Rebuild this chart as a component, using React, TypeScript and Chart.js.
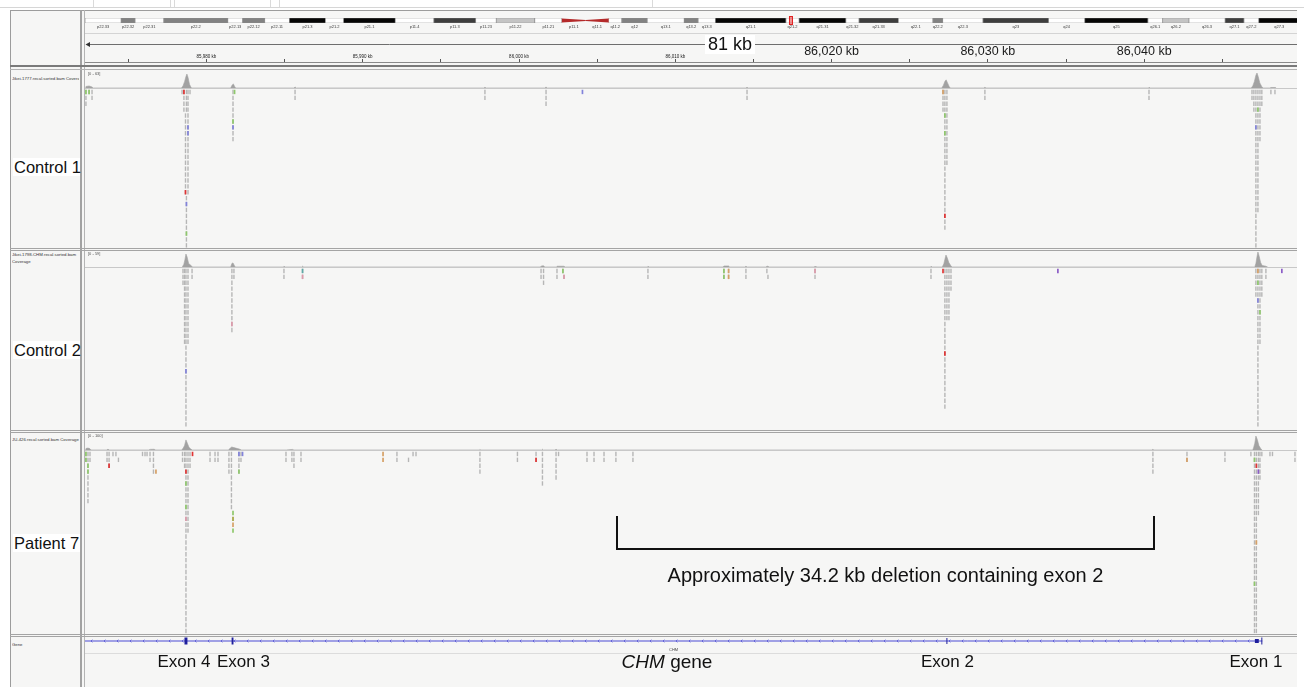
import React, { useEffect, useRef } from "react";
import { Chart, registerables } from "chart.js";

Chart.register(...registerables);

const FONT = '"Liberation Sans", Arial, Helvetica, sans-serif';

// ---------------- locus / ruler ----------------
const VIEW_START_KB = 85972.23;
const VIEW_END_KB = 86049.78;
const RULER_STEP_KB = 5;
const RULER_LABEL_STEP_KB = 10;
const RULER_BIG_FROM_KB = 86015;
const SPAN_LABEL = "81 kb";
const SPAN_LABEL_KB = 86013.5;

// ---------------- ideogram chrX (Mb) ----------------
const bandNames = ["p22.33","p22.32","p22.31","p22.2","p22.13","p22.12","p22.11","p21.3","p21.2","p21.1","p11.4","p11.3","p11.23","p11.22","p11.21","p11.1","q11.1","q11.2","q12","q13.1","q13.2","q13.3","q21.1","q21.2","q21.31","q21.32","q21.33","q22.1","q22.2","q22.3","q23","q24","q25","q26.1","q26.2","q26.3","q27.1","q27.2","q27.3","q28"];
const bandStartMb = [0,4.4,6.1,9.6,17.4,19.2,21.9,24.9,29.3,31.5,37.8,42.5,47.6,50.1,54.8,58.1,61.0,63.8,65.4,68.5,73.0,74.7,76.8,85.4,87.0,92.7,94.3,99.1,103.3,104.5,109.4,117.4,121.8,129.5,131.3,134.5,138.9,141.2,143.0,148.0];
const bandEndMb = [4.4,6.1,9.6,17.4,19.2,21.9,24.9,29.3,31.5,37.8,42.5,47.6,50.1,54.8,58.1,61.0,63.8,65.4,68.5,73.0,74.7,76.8,85.4,87.0,92.7,94.3,99.1,103.3,104.5,109.4,117.4,121.8,129.5,131.3,134.5,138.9,141.2,143.0,148.0,156.0];
const bandStain = ["gneg","gpos50","gneg","gpos50","gneg","gpos50","gneg","gpos100","gneg","gpos100","gneg","gpos75","gneg","gpos25","gneg","acen","acen","gneg","gpos50","gneg","gpos50","gneg","gpos100","gneg","gpos100","gneg","gpos75","gneg","gpos50","gneg","gpos75","gneg","gpos100","gneg","gpos25","gneg","gpos75","gneg","gpos100","gpos75"];
const CHROM_VIEW_END_MB = 147.66;
const CURRENT_LOCUS_MB = 86.01;

// ---------------- coverage tracks ----------------
const c1Range = 63;
const c1CovPos = [85972.23,85972.29,85972.49,85972.68,85972.75,85978.40,85978.50,85978.60,85978.69,85978.75,85978.82,85978.92,85979.00,85979.05,85981.55,85981.65,85981.72,85981.82,85981.88,85985.60,85985.67,85985.75,85997.75,85997.82,85997.90,86001.65,86001.73,86001.80,86014.52,86014.59,86014.66,86027.05,86027.15,86027.25,86027.33,86027.42,86027.52,86027.60,86029.75,86029.81,86029.88,86040.25,86040.31,86040.38,86046.85,86046.95,86047.05,86047.15,86047.22,86047.30,86047.40,86047.52,86047.60,86048.05,86048.11,86048.40,86048.45];
const c1CovVal = [0,6,8,4,0,0,8,25,45,55,42,14,4,0,0,12,16,4,0,0,4,0,0,3,0,0,4,0,0,3,0,0,10,26,32,20,6,0,0,3,0,0,3,0,0,8,25,50,59,44,20,6,0,0,2,2,0];

const c2Range = 59;
const c2CovPos = [85978.45,85978.55,85978.62,85978.69,85978.76,85978.86,85979.05,85979.10,85981.55,85981.63,85981.70,85981.80,85981.85,85984.90,85984.96,85985.03,85986.10,85986.15,85986.22,86001.35,86001.45,86001.57,86001.65,86002.38,86002.43,86002.88,86002.95,86008.20,86008.25,86008.32,86013.05,86013.11,86013.41,86013.48,86014.45,86014.52,86014.60,86015.80,86015.86,86015.93,86016.00,86018.88,86018.94,86019.00,86026.30,86026.36,86026.43,86027.08,86027.18,86027.25,86027.32,86027.40,86027.50,86027.62,86027.70,86047.08,86047.15,86047.22,86047.28,86047.36,86047.45,86047.55,86047.80,86047.85];
const c2CovVal = [0,10,28,51,40,14,4,0,0,14,16,4,0,0,3,0,0,3,0,0,4,5,0,0,3,3,0,0,3,0,0,4,4,0,0,3,0,0,3,3,0,0,3,0,0,3,0,0,12,30,47,36,18,6,0,0,14,40,59,42,18,6,3,0];

const p7Range = 100;
const p7CovPos = [85972.23,85972.29,85972.42,85972.55,85972.62,85973.60,85973.70,85973.80,85976.30,85976.40,85976.65,85976.75,85978.40,85978.50,85978.60,85978.69,85978.78,85978.88,85979.00,85979.10,85981.40,85981.50,85981.62,85981.75,85982.10,85982.25,85985.10,85985.50,85985.60,85997.45,85997.50,85997.55,86001.45,86001.50,86001.55,86002.30,86002.37,86002.45,86040.50,86040.56,86040.62,86046.95,86047.00,86047.08,86047.15,86047.24,86047.34,86047.45,86047.55];
const p7CovVal = [0,10,13,8,0,0,5,0,0,4,5,0,0,10,30,67,45,18,6,0,0,10,20,16,6,0,0,4,0,0,4,0,0,5,0,0,5,0,0,5,0,0,15,45,93,70,30,10,0];

// ---------------- read pileups (column position kb, first row, last row) ----------------
const c1ReadPos = [85972.29,85972.49,85972.68,85978.44,85978.56,85978.66,85978.72,85978.72,85978.82,85978.95,85981.70,85985.67,85997.82,86001.73,86014.59,86027.13,86027.25,86027.38,86029.81,86040.31,86046.90,86047.02,86047.15,86047.28,86047.41,86047.53,86048.11,86048.37];
const c1ReadFrom = [0,0,0,0,0,4,0,18,0,0,0,0,0,0,0,0,0,0,0,0,0,0,0,0,0,0,0,0];
const c1ReadTo = [2,0,1,0,3,17,3,26,17,0,8,1,1,2,1,3,23,12,1,1,1,3,26,20,8,2,0,0];
const c1TintPos = [85972.29,85972.49,85978.56,85978.82,85978.82,85978.66,85978.72,85978.72,85981.70,85981.70,85981.80,86004.06,86027.13,86027.25,86027.25,86027.25,86047.15,86047.28];
const c1TintRow = [0,0,0,6,7,17,19,24,5,6,0,0,0,4,7,21,6,3];
const c1TintCol = ["g","g","r","b","b","r","b","g","g","b","g","b","o","g","g","r","b","g"];

const c2ReadPos = [85978.50,85978.60,85978.69,85978.82,85979.08,85981.63,85981.76,85984.96,85986.15,86001.41,86001.57,86002.43,86002.81,86002.88,86008.25,86013.11,86013.41,86014.52,86015.86,86015.93,86018.94,86026.36,86027.25,86027.38,86027.51,86027.64,86047.15,86047.28,86047.41,86047.53,86047.79];
const c2ReadFrom = [0,0,0,0,0,0,0,0,0,0,0,0,0,1,0,0,0,0,0,1,0,0,0,0,0,0,0,0,0,0,0];
const c2ReadTo = [2,12,26,12,1,10,1,1,1,1,2,1,0,1,1,1,1,1,0,1,1,1,23,8,8,3,4,26,12,4,1];
const c2TintPos = [85978.69,85981.63,85986.15,85986.15,86002.81,86002.88,86013.11,86013.11,86013.41,86013.41,86018.94,86027.13,86027.25,86034.48,86047.28,86047.28,86047.28,86047.41,86048.81];
const c2TintRow = [17,9,0,1,0,1,0,1,0,1,0,0,14,0,0,2,5,7,0];
const c2TintCol = ["b","k","t","k","g","k","g","g","o","o","k","r","r","p","o","g","b","g","p"];

const p7ReadPos = [85972.29,85972.42,85972.55,85973.64,85973.77,85974.02,85974.21,85974.37,85975.91,85976.07,85976.20,85976.39,85976.61,85978.47,85978.60,85978.69,85978.82,85978.95,85980.23,85980.55,85980.74,85981.44,85981.60,85982.08,85982.21,85985.09,85985.47,85985.60,85986.05,85992.19,85992.93,85993.22,85993.41,85997.50,85999.90,86001.09,86001.50,86002.37,86002.53,86004.35,86004.80,86005.44,86006.20,86007.29,86040.56,86042.74,86045.17,86046.83,86047.06,86047.18,86047.31,86047.41,86047.53,86048.05,86048.21,86049.65];
const p7ReadFrom = [0,0,0,0,0,0,0,1,0,0,0,0,0,0,0,0,0,0,0,0,0,0,0,0,0,0,0,0,0,0,1,0,0,0,0,0,0,0,0,0,0,0,0,0,0,0,0,0,0,0,0,0,0,0,0,0];
const p7ReadTo = [1,8,1,1,2,0,0,1,0,0,0,1,3,1,2,30,13,2,1,1,1,3,9,3,1,1,1,2,1,1,1,0,0,3,1,1,5,4,0,1,1,1,1,1,3,1,1,0,30,30,10,4,0,0,0,1];
const p7TintPos = [85972.29,85972.29,85972.42,85972.42,85973.77,85976.77,85979.11,85978.69,85978.69,85978.69,85978.69,85981.70,85981.70,85981.70,85981.70,85982.08,85982.08,85982.31,85991.30,85991.30,86001.09,86042.74,86047.06,86047.18,86047.31,86047.18,86047.06];
const p7TintRow = [0,1,2,3,2,3,0,3,5,9,11,10,11,12,13,0,3,0,0,1,1,1,1,2,3,15,22];
const p7TintCol = ["g","g","g","g","r","o","r","r","g","g","k","g","v","o","g","b","g","b","o","o","r","o","g","r","p","o","g"];

// ---------------- gene track ----------------
const GENE_NAME = "CHM";
const GENE_START_KB = 85861.18;
const GENE_END_KB = 86047.56;
const exonMarkKb = [85978.69, 85981.67, 86027.38, 86047.21, 86047.53];
const exonMarkWidthKb = [0.19, 0.12, 0.06, 0.25, 0.06];
const exonMarkHalfHeight = [3.5, 3.5, 3, 2, 3.5];
const exonLabelText = ["Exon 4", "Exon 3", "Exon 2", "Exon 1"];
const exonLabelKb = [85978.56, 85982.37, 86027.41, 86047.15];
const GENE_TITLE_KB = 86009.47;

// ---------------- deletion annotation ----------------
const DEL_START_KB = 86006.27;
const DEL_END_KB = 86040.63;
const DEL_TEXT = "Approximately 34.2 kb deletion containing exon 2";

// ---------------- styling ----------------
const stainColor: Record<string, string> = {
  gneg: "#ffffff", gpos25: "#c4c4c4", gpos50: "#828282", gpos75: "#3e3e3e", gpos100: "#050505", acen: "rgba(0,0,0,0)",
};
const tintColor: Record<string, string> = {
  g: "#8fc86c", r: "#e03434", b: "#8283da", o: "#d6a066", p: "#8b5cc6", t: "#5ea8a6", k: "#dc9aaa", v: "#a3a33e",
};
const READ_GRAY = "#b6b6b6";
const COV_GRAY = "#a2a2a2";
const GENE_BLUE = "#4a4ad4";
const EXON_BLUE = "#1e1e9c";
const ROW_PX = 5.9;
const BG = "#f6f6f5";
const LINE = "#9c9c9c";
const DATA_X = 85;
const DATA_W = 1212;

function baseOptions(extra: any) {
  return {
    animation: false,
    responsive: false,
    maintainAspectRatio: false,
    devicePixelRatio: 1,
    events: [],
    layout: { padding: 0, autoPadding: false },
    plugins: { legend: { display: false }, tooltip: { enabled: false }, title: { display: false } },
    ...extra,
  };
}

const genomeX = { type: "linear", min: VIEW_START_KB, max: VIEW_END_KB, display: false };

function ChartBox({ left, top, width, height, build }: any) {
  const ref = useRef<HTMLCanvasElement>(null);
  useEffect(() => {
    const chart = new Chart(ref.current as HTMLCanvasElement, build());
    return () => chart.destroy();
  }, []);
  return (
    <canvas ref={ref} width={width} height={height}
      style={{ position: "absolute", left, top, width, height }} />
  );
}

// ---------- ideogram ----------
const ideogramDecor = {
  id: "ideogramDecor",
  afterDatasetsDraw(chart: any) {
    const { ctx, chartArea, scales } = chart;
    const { top, bottom, right } = chartArea;
    const x = scales.x;
    const mid = (top + bottom) / 2;
    ctx.save();
    bandNames.forEach((n, i) => {
      if (bandStain[i] !== "acen") return;
      const x0 = x.getPixelForValue(bandStartMb[i]);
      const x1 = x.getPixelForValue(bandEndMb[i]);
      ctx.fillStyle = "#b42a2a";
      ctx.beginPath();
      if (n.startsWith("p")) {
        ctx.moveTo(x0, top + 0.5); ctx.lineTo(x1, mid - 0.4); ctx.lineTo(x1, mid + 0.4); ctx.lineTo(x0, bottom - 0.5);
      } else {
        ctx.moveTo(x0, mid - 0.4); ctx.lineTo(x1, top + 0.5); ctx.lineTo(x1, bottom - 0.5); ctx.lineTo(x0, mid + 0.4);
      }
      ctx.closePath();
      ctx.fill();
    });
    ctx.font = `4px ${FONT}`;
    ctx.fillStyle = "#3a3a3a";
    ctx.textAlign = "center";
    ctx.textBaseline = "middle";
    bandNames.forEach((n, i) => {
      const c = x.getPixelForValue((bandStartMb[i] + bandEndMb[i]) / 2);
      if (c < right - 4) ctx.fillText(n, c, bottom + 3.5);
    });
    const lx = x.getPixelForValue(CURRENT_LOCUS_MB);
    ctx.fillStyle = "rgba(230,60,60,0.55)";
    ctx.fillRect(lx - 1.5, top - 1.5, 3, bottom - top + 3);
    ctx.strokeStyle = "#e02020";
    ctx.lineWidth = 1;
    ctx.strokeRect(lx - 1.5, top - 1.5, 3, bottom - top + 3);
    ctx.restore();
  },
};

function ideogramConfig() {
  return {
    type: "bar",
    data: {
      labels: ["chrX"],
      datasets: [{
        data: bandNames.map((_, i) => ({ x: [bandStartMb[i], bandEndMb[i]], y: "chrX" })),
        backgroundColor: bandStain.map((s) => stainColor[s]),
        borderColor: bandStain.map((s) => (s === "acen" ? "rgba(0,0,0,0)" : "#8e8e8e")),
        borderWidth: 0.7,
        borderSkipped: false,
        barPercentage: 1,
        categoryPercentage: 1,
      }],
    },
    options: baseOptions({
      indexAxis: "y",
      layout: { padding: { top: 3, bottom: 8, left: 0, right: 0 }, autoPadding: false },
      scales: {
        x: { type: "linear", min: 0, max: CHROM_VIEW_END_MB, display: false },
        y: { type: "category", display: false },
      },
    }),
    plugins: [ideogramDecor],
  };
}

// ---------- ruler ----------
const rulerDecor = {
  id: "rulerDecor",
  afterDraw(chart: any) {
    const { ctx, chartArea, scales } = chart;
    const { left, right } = chartArea;
    const y = 11.5;
    ctx.save();
    ctx.strokeStyle = "#6e6e6e";
    ctx.lineWidth = 1;
    ctx.beginPath();
    ctx.moveTo(left + 2, y);
    ctx.lineTo(right, y);
    ctx.stroke();
    ctx.fillStyle = "#333";
    ctx.beginPath();
    ctx.moveTo(left + 0.5, y);
    ctx.lineTo(left + 5, y - 2.5);
    ctx.lineTo(left + 5, y + 2.5);
    ctx.closePath();
    ctx.fill();
    ctx.font = `18px ${FONT}`;
    const cx = scales.x.getPixelForValue(SPAN_LABEL_KB);
    const w = ctx.measureText(SPAN_LABEL).width;
    ctx.fillStyle = "#ffffff";
    ctx.fillRect(cx - w / 2 - 3, 2, w + 6, 19);
    ctx.fillStyle = "#111";
    ctx.textAlign = "center";
    ctx.textBaseline = "middle";
    ctx.fillText(SPAN_LABEL, cx, y + 0.5);
    ctx.restore();
  },
};

function rulerConfig() {
  return {
    type: "scatter",
    data: { datasets: [] },
    options: baseOptions({
      layout: { padding: { top: 11, bottom: 0, left: 0, right: 0 }, autoPadding: false },
      scales: {
        x: {
          type: "linear",
          position: "top",
          min: VIEW_START_KB,
          max: VIEW_END_KB,
          border: { display: false },
          grid: { drawOnChartArea: false, drawTicks: true, tickLength: 4, tickColor: "#555", tickWidth: 1 },
          ticks: {
            stepSize: RULER_STEP_KB,
            includeBounds: false,
            autoSkip: false,
            maxRotation: 0,
            minRotation: 0,
            padding: 0,
            color: "#1a1a1a",
            font: (c: any) => ({ family: FONT, size: c.tick && c.tick.value > RULER_BIG_FROM_KB ? 12.5 : 4.5 }),
            callback: (v: any) => {
              const r = Math.round(Number(v));
              return r % RULER_LABEL_STEP_KB === 0 ? `${r.toLocaleString("en-US")} kb` : "";
            },
          },
        },
        y: { display: false, min: 0, max: 1 },
      },
    }),
    plugins: [rulerDecor],
  };
}

// ---------- coverage ----------
function coverageConfig(pos: number[], val: number[], range: number) {
  return {
    type: "scatter",
    data: {
      datasets: [{
        data: pos.map((x, i) => ({ x, y: val[i] })),
        showLine: true,
        fill: "origin",
        backgroundColor: COV_GRAY,
        borderColor: COV_GRAY,
        borderWidth: 0.6,
        pointRadius: 0,
        tension: 0,
      }],
    },
    options: baseOptions({
      scales: { x: genomeX, y: { type: "linear", min: 0, max: range, display: false } },
    }),
  };
}

// ---------- reads ----------
function readsConfig(pos: number[], from: number[], to: number[], tPos: number[], tRow: number[], tCol: string[], height: number, extraPlugins: any[] = []) {
  const gray: any[] = [];
  pos.forEach((p, i) => {
    for (let r = from[i]; r <= to[i]; r++) gray.push({ x: p, y: r });
  });
  const tint = tPos.map((p, i) => ({ x: p, y: tRow[i] }));
  return {
    type: "scatter",
    data: {
      datasets: [
        {
          data: tint,
          pointStyle: "line",
          pointRotation: 90,
          pointRadius: 2.2,
          pointBorderWidth: 1.7,
          pointBorderColor: tCol.map((c) => tintColor[c]),
          pointBackgroundColor: tCol.map((c) => tintColor[c]),
        },
        {
          data: gray,
          pointStyle: "line",
          pointRotation: 90,
          pointRadius: 2.2,
          pointBorderWidth: 1.4,
          pointBorderColor: READ_GRAY,
          pointBackgroundColor: READ_GRAY,
        },
      ],
    },
    options: baseOptions({
      scales: {
        x: genomeX,
        y: { type: "linear", min: -0.5, max: height / ROW_PX - 0.5, reverse: true, display: false },
      },
    }),
    plugins: extraPlugins,
  };
}

const deletionDecor = {
  id: "deletionDecor",
  afterDraw(chart: any) {
    const { ctx, scales } = chart;
    const x0 = scales.x.getPixelForValue(DEL_START_KB);
    const x1 = scales.x.getPixelForValue(DEL_END_KB);
    ctx.save();
    ctx.strokeStyle = "#111";
    ctx.lineWidth = 2;
    ctx.beginPath();
    ctx.moveTo(x0, 65);
    ctx.lineTo(x0, 98);
    ctx.lineTo(x1, 98);
    ctx.lineTo(x1, 65);
    ctx.stroke();
    ctx.font = `20px ${FONT}`;
    ctx.fillStyle = "#111";
    ctx.textAlign = "center";
    ctx.textBaseline = "middle";
    ctx.fillText(DEL_TEXT, (x0 + x1) / 2, 125);
    ctx.restore();
  },
};

// ---------- gene ----------
const geneDecor = {
  id: "geneDecor",
  afterDatasetsDraw(chart: any) {
    const { ctx, chartArea, scales } = chart;
    const { left, right, bottom } = chartArea;
    const x = scales.x;
    const gy = scales.y.getPixelForValue(0);
    const gs = Math.max(left, x.getPixelForValue(GENE_START_KB));
    const ge = Math.min(right, x.getPixelForValue(GENE_END_KB));
    ctx.save();
    ctx.strokeStyle = GENE_BLUE;
    ctx.lineWidth = 0.7;
    for (let px = gs + 6; px < ge - 5; px += 13) {
      ctx.beginPath();
      ctx.moveTo(px + 1.4, gy - 1.4);
      ctx.lineTo(px, gy);
      ctx.lineTo(px + 1.4, gy + 1.4);
      ctx.stroke();
    }
    ctx.fillStyle = "#444";
    ctx.font = `4px ${FONT}`;
    ctx.textAlign = "center";
    ctx.textBaseline = "middle";
    ctx.fillText(GENE_NAME, (gs + ge) / 2, gy + 9);

    ctx.fillStyle = "#111";
    ctx.font = `17px ${FONT}`;
    ctx.textBaseline = "middle";
    const ly = bottom + 16;
    exonLabelText.forEach((t, i) => {
      ctx.fillText(t, x.getPixelForValue(exonLabelKb[i]), ly);
    });
    const tx = x.getPixelForValue(GENE_TITLE_KB);
    ctx.font = `italic 19px ${FONT}`;
    const w1 = ctx.measureText(GENE_NAME).width;
    ctx.font = `19px ${FONT}`;
    const w2 = ctx.measureText(" gene").width;
    const sx = tx - (w1 + w2) / 2;
    ctx.textAlign = "left";
    ctx.font = `italic 19px ${FONT}`;
    ctx.fillText(GENE_NAME, sx, ly + 1);
    ctx.font = `19px ${FONT}`;
    ctx.fillText(" gene", sx + w1, ly + 1);
    ctx.restore();
  },
};

function geneConfig() {
  return {
    type: "scatter",
    data: {
      datasets: [
        {
          data: exonMarkKb.map((k) => ({ x: k, y: 0 })),
          pointStyle: "line",
          pointRotation: 90,
          pointRadius: exonMarkHalfHeight,
          pointBorderColor: EXON_BLUE,
          pointBackgroundColor: EXON_BLUE,
          pointBorderWidth: (c: any) => {
            const sx = c.chart.scales.x;
            const ppk = sx ? Math.abs(sx.getPixelForValue(VIEW_START_KB + 1) - sx.getPixelForValue(VIEW_START_KB)) : 15;
            return Math.max(1, exonMarkWidthKb[c.dataIndex] * ppk);
          },
        },
        {
          data: [{ x: GENE_START_KB, y: 0 }, { x: GENE_END_KB, y: 0 }],
          showLine: true,
          borderColor: GENE_BLUE,
          borderWidth: 1,
          pointRadius: 0,
        },
      ],
    },
    options: baseOptions({
      layout: { padding: { top: 0, bottom: 41, left: 0, right: 0 }, autoPadding: false },
      scales: { x: genomeX, y: { type: "linear", min: -1, max: 1, display: false } },
    }),
    plugins: [geneDecor],
  };
}

// ---------- frame helpers ----------
function H({ x1, x2, y, h = 1, c = LINE }: any) {
  return <div style={{ position: "absolute", left: x1, top: y, width: x2 - x1, height: h, background: c }} />;
}
function V({ x, y1, y2, w = 1, c = LINE }: any) {
  return <div style={{ position: "absolute", left: x, top: y1, width: w, height: y2 - y1, background: c }} />;
}
function Tiny({ left, top, text, width = 67, wrap = false }: any) {
  return (
    <div style={{
      position: "absolute", left, top, width, fontSize: 4.3, lineHeight: "6.5px", color: "#333",
      whiteSpace: wrap ? "normal" : "nowrap", overflow: "hidden", height: wrap ? 14 : 7,
    }}>{text}</div>
  );
}
function BigLabel({ top, text }: any) {
  return (
    <div style={{
      position: "absolute", left: 13, top, width: 66, height: 18, background: "#fff",
      fontSize: 16.5, lineHeight: "18px", color: "#111", paddingLeft: 1, whiteSpace: "nowrap",
    }}>{text}</div>
  );
}
function Range({ top, text }: any) {
  return <div style={{ position: "absolute", left: 88, top, fontSize: 4, lineHeight: "5px", color: "#555" }}>{text}</div>;
}

export default function App() {
  const R = DATA_X + DATA_W;
  return (
    <div style={{ position: "absolute", left: 0, top: 0, width: 1304, height: 687, background: "#fff", overflow: "hidden", fontFamily: FONT }}>
      {/* top window strip */}
      <H x1={0} x2={1304} y={7} c="#d6d6d6" />
      <V x={93} y1={0} y2={7} c="#dadada" />
      <V x={170} y1={0} y2={7} c="#dadada" />
      <V x={174} y1={0} y2={7} c="#dadada" />
      <V x={270} y1={0} y2={7} c="#dadada" />
      <V x={279} y1={0} y2={7} c="#dadada" />
      <V x={652} y1={0} y2={7} c="#dadada" />

      {/* panel background */}
      <div style={{ position: "absolute", left: 10, top: 10, width: R - 10, height: 677, background: BG }} />

      {/* charts */}
      <ChartBox left={DATA_X} top={15} width={DATA_W} height={16} build={ideogramConfig} />
      <ChartBox left={DATA_X} top={33} width={DATA_W} height={54} build={rulerConfig} />

      <ChartBox left={DATA_X} top={72} width={DATA_W} height={16} build={() => coverageConfig(c1CovPos, c1CovVal, c1Range)} />
      <ChartBox left={DATA_X} top={89} width={DATA_W} height={159}
        build={() => readsConfig(c1ReadPos, c1ReadFrom, c1ReadTo, c1TintPos, c1TintRow, c1TintCol, 159)} />

      <ChartBox left={DATA_X} top={252} width={DATA_W} height={15} build={() => coverageConfig(c2CovPos, c2CovVal, c2Range)} />
      <ChartBox left={DATA_X} top={268} width={DATA_W} height={162}
        build={() => readsConfig(c2ReadPos, c2ReadFrom, c2ReadTo, c2TintPos, c2TintRow, c2TintCol, 162)} />

      <ChartBox left={DATA_X} top={435} width={DATA_W} height={15} build={() => coverageConfig(p7CovPos, p7CovVal, p7Range)} />
      <ChartBox left={DATA_X} top={451} width={DATA_W} height={183}
        build={() => readsConfig(p7ReadPos, p7ReadFrom, p7ReadTo, p7TintPos, p7TintRow, p7TintCol, 183, [deletionDecor])} />

      <ChartBox left={DATA_X} top={636} width={DATA_W} height={51} build={geneConfig} />

      {/* frame lines */}
      <H x1={10} x2={R} y={10} />
      <V x={10} y1={10} y2={687} />
      <V x={80} y1={10} y2={687} w={2} c="#a2a2a2" />
      <V x={84} y1={10} y2={687} c="#b4b4b4" />
      <H x1={DATA_X} x2={R} y={33} c="#d4d4d4" />
      <H x1={DATA_X} x2={R} y={62} c="#8a8a8a" />
      <H x1={10} x2={R} y={65} h={2} c="#7a7a7a" />
      <H x1={10} x2={R} y={69} c="#b2b2b2" />
      <H x1={DATA_X} x2={R} y={88} c="#c8c8c8" />
      <H x1={10} x2={R} y={248} c="#a4a4a4" />
      <H x1={10} x2={R} y={250} c="#a4a4a4" />
      <H x1={DATA_X} x2={R} y={267} c="#c8c8c8" />
      <H x1={10} x2={R} y={430} c="#a4a4a4" />
      <H x1={10} x2={R} y={432} c="#a4a4a4" />
      <H x1={DATA_X} x2={R} y={450} c="#c8c8c8" />
      <H x1={10} x2={R} y={634} c="#a4a4a4" />
      <H x1={10} x2={R} y={636} c="#a4a4a4" />
      <H x1={DATA_X} x2={R} y={653} c="#dcdcdc" />

      {/* name panel */}
      <Tiny left={12} top={76} text="Jikei-1777.recal.sorted.bam Coverage" />
      <Tiny left={12} top={252} text="Jikei-1798-CHM.recal.sorted.bam Coverage" wrap />
      <Tiny left={12} top={437} text="JU-426.recal.sorted.bam Coverage" />
      <Tiny left={12} top={642} text="Gene" />
      <BigLabel top={158} text="Control 1" />
      <BigLabel top={341} text="Control 2" />
      <BigLabel top={534} text="Patient 7" />

      <Range top={71} text="[0 - 63]" />
      <Range top={251} text="[0 - 59]" />
      <Range top={433} text="[0 - 100]" />
    </div>
  );
}
